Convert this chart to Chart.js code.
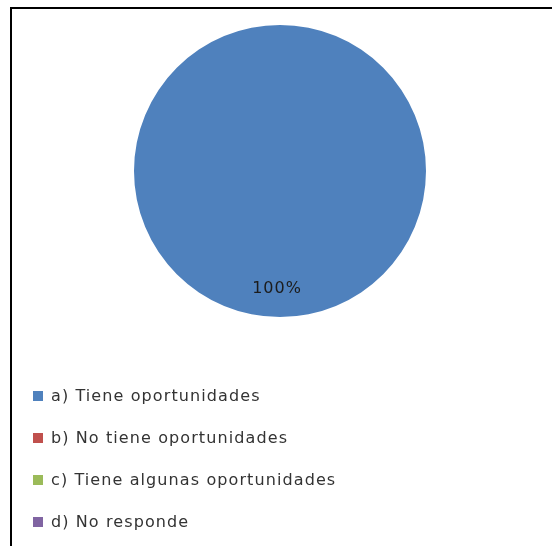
<!DOCTYPE html>
<html>
<head>
<meta charset="utf-8">
<script src="https://cdn.jsdelivr.net/npm/chart.js@4/dist/chart.umd.min.js"></script>
<style>
  body { margin: 0; background: #fff; }
  #wrap { position: relative; width: 552px; height: 546px; overflow: hidden; }
  /* frame of the original sheet: only top and left edges are visible */
  #frame { position: absolute; left: 10px; top: 7px; width: 700px; height: 700px;
           border-top: 2px solid #000; border-left: 2px solid #000; }
  canvas { position: absolute; left: 0; top: 0; }
</style>
</head>
<body>
<div id="wrap">
  <div id="frame"></div>
  <canvas id="chart_1" width="552" height="546"></canvas>
</div>
<script>
var categories = [
  "a) Tiene oportunidades",
  "b) No tiene oportunidades",
  "c) Tiene algunas oportunidades",
  "d) No responde"
];
var values = [100, 0, 0, 0];
var colors = ["#4F81BD", "#C0504D", "#9BBB59", "#8064A2"];

var legendFont = "16px 'DejaVu Sans'";
var legendColor = "#333333";
var labelFont = "16px 'DejaVu Sans'";
var labelColor = "#1c1c1c";

// percentage label inside each slice (near the outer edge, like Excel)
const sliceLabels = {
  id: "sliceLabels",
  afterDatasetsDraw: (chart) => {
    const ctx = chart.ctx;
    const meta = chart.getDatasetMeta(0);
    const data = chart.data.datasets[0].data;
    const total = data.reduce((a, b) => a + b, 0);
    ctx.save();
    ctx.font = labelFont;
    ctx.fillStyle = labelColor;
    ctx.textAlign = "center";
    ctx.textBaseline = "middle";
    ctx.letterSpacing = "1px";
    meta.data.forEach((arc, i) => {
      if (!data[i]) return;
      const p = arc.getProps(["x", "y", "startAngle", "endAngle", "outerRadius"], true);
      const mid = (p.startAngle + p.endAngle) / 2;
      const r = p.outerRadius * 0.8;
      const pct = Math.round((data[i] / total) * 100) + "%";
      ctx.fillText(pct, p.x + Math.cos(mid) * r - 3, p.y + Math.sin(mid) * r + 1);
    });
    ctx.restore();
  }
};

// vertical legend below the pie
const sideLegend = {
  id: "sideLegend",
  afterDraw: (chart) => {
    const ctx = chart.ctx;
    const ds = chart.data.datasets[0];
    ctx.save();
    ctx.font = legendFont;
    ctx.textAlign = "left";
    ctx.textBaseline = "middle";
    ctx.letterSpacing = "1.1px";
    chart.data.labels.forEach((lbl, i) => {
      const y = 396 + i * 42;
      ctx.fillStyle = ds.backgroundColor[i];
      ctx.fillRect(33, y - 5, 10, 10);
      ctx.fillStyle = legendColor;
      ctx.fillText(lbl, 51, y + 1);
    });
    ctx.restore();
  }
};

const ctxval1 = document.getElementById("chart_1");

var myChart1 = new Chart(ctxval1, {
  type: "pie",
  data: {
    labels: categories,
    datasets: [
      {
        data: values,
        backgroundColor: colors,
        borderWidth: 0
      }
    ]
  },
  options: {
    responsive: false,
    animation: false,
    layout: {
      padding: { left: 10, right: 2, top: 25, bottom: 229 }
    },
    plugins: {
      legend: { display: false },
      tooltip: { enabled: false }
    }
  },
  plugins: [sliceLabels, sideLegend]
});
</script>
</body>
</html>
